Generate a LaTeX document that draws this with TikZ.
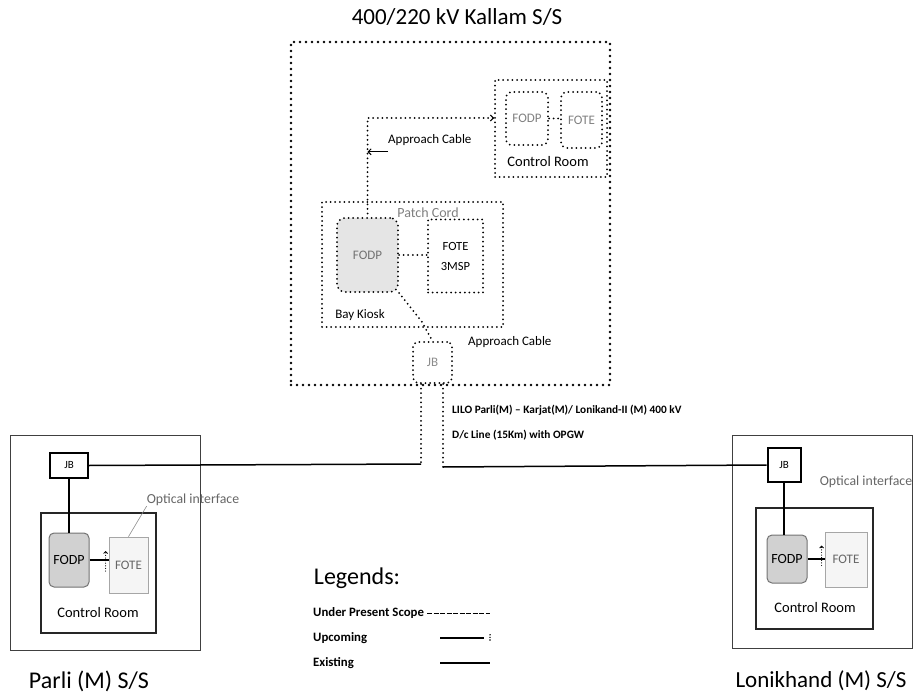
\documentclass[tikz,border=0pt]{standalone}
\usepackage{fontspec}
\setmainfont{Carlito}
\usetikzlibrary{arrows.meta}
\tikzset{dim/.style 2 args={minimum width=#1, minimum height=#2, inner sep=0pt},
	bigdots/.style={line width=2.6pt, line cap=round, dash pattern=on 0pt off 6pt},
	dots/.style={line width=2pt, line cap=round, dash pattern=on 0pt off 4.6pt},
	tinydots/.style={line width=1.2pt, line cap=round, dash pattern=on 0pt off 2.6pt},
	lbl/.style={inner sep=0pt, font=\fontsize{13}{15}\selectfont},
	room lbl/.style={inner sep=0pt, font=\fontsize{14.5}{17}\selectfont},
	big/.style={inner sep=0pt, font=\fontsize{23}{27}\selectfont},
	legi/.style={inner sep=0pt, anchor=west, font=\bfseries\fontsize{12.8}{15}\selectfont},
	barb/.style={-{Straight Barb[length=3pt,width=6pt,line width=1pt]}},
	outer/.style={draw=black!75, line width=1pt},
	room/.style={draw=black!85, line width=1.3pt},
	fodp/.style={draw=black!55, fill=black!18, rounded corners=5, line width=1pt},
	fote/.style={draw=black!35, fill=black!4, line width=0.8pt, text=black!60},
	link/.style={line width=1.5pt}}

\begin{document}
\begin{tikzpicture}[x=1pt,y=-1pt]
\useasboundingbox (0,0) rectangle (917,700);
\node[big] (title) at (457,17) {400/220 kV Kallam S/S};
\node[bigdots, draw, dim={319}{343}] (kal) at (450.5,213.5) {};
\node[dots, draw, dim={112}{97}] (kcr) at (551,128.5) {};
\node[dots, draw, rounded corners=6, dim={42}{53}, lbl, text=black!50] (kfodp) at (527,118.5) {FODP};
\node[dots, draw, rounded corners=6, dim={41}{56}, lbl, text=black!50] (kfote) at (581.5,120) {FOTE};
\node[room lbl] (kcrl) at (548,162) {Control Room};
\node[dots, draw, dim={181}{125}] (bk) at (412.5,264.5) {};
\node[dots, draw, rounded corners=8, fill=black!10, dim={61}{74}, lbl, text=black!55] (bfodp) at (367.5,255) {FODP};
\node[dots, draw, dim={55}{73}, align=center, lbl, font=\fontsize{12.5}{20}\selectfont] (bfote) at (455.5,256) {FOTE\\3MSP};
\node[lbl, text=black!50, font=\fontsize{14}{16}\selectfont] (pcord) at (428,213) {Patch Cord};
\node[lbl] (bkl) at (360,315) {Bay Kiosk};
\node[dots, draw, rounded corners=5, dim={39}{41}, lbl, text=black!45] (kjb) at (432.5,362.5) {JB};
\node[lbl, anchor=west] (acl1) at (388,140) {Approach Cable};
\node[lbl, anchor=west] (acl2) at (468,342) {Approach Cable};
\draw[dots, {Straight Barb[length=3pt,width=6pt,line width=1pt]}-] ([yshift=10.5pt]kcr.west) -| (bfodp.north);
\draw[line width=0.8pt, barb] ([yshift=-6pt]acl1.south west) -- ([yshift=-6pt]acl1.south west -| bfodp.north);
\draw[dots] (kfodp.east) -- (kfodp.east -| kfote.west);
\draw[dots] (bfodp.east) -- (bfodp.east -| bfote.west);
\coordinate (bend) at (422,322);
\draw[dots] (bfodp.south east) -- (bend) -- (kjb.north);
\coordinate (lj) at (421,464);
\coordinate (rj) at (443,467);
\draw[dots] (kjb.south -| lj) -- (lj);
\draw[dots] (kjb.south -| rj) -- (rj);
\node[inner sep=0pt, anchor=west, font=\bfseries\fontsize{11.3}{13}\selectfont] (lilo1) at (452,410) {LILO Parli(M) -- Karjat(M)/ Lonikand-II (M) 400 kV};
\node[inner sep=0pt, anchor=west, font=\bfseries\fontsize{11.3}{13}\selectfont] (lilo2) at (452,435) {D/c Line (15Km) with OPGW};
\node[outer, dim={190}{215}] (pss) at (105,542.5) {};
\node[draw, line width=2pt, dim={38}{25}, lbl, font=\fontsize{11}{13}\selectfont] (pjb) at (69,465.5) {JB};
\node[room, dim={115}{120}] (pcr) at (98.5,573) {};
\node[fodp, dim={40}{54}, lbl, font=\fontsize{14}{16}\selectfont] (pfodp) at (69,560) {FODP};
\node[fote, dim={39}{56}, lbl] (pfote) at (128.5,565) {FOTE};
\node[room lbl] (pcrl) at (98,613) {Control Room};
\node[lbl, text=black!60, font=\fontsize{13.8}{16}\selectfont] (poi) at (193,500) {Optical interface};
\node[big, font=\fontsize{24}{28}\selectfont] (pname) at (89,681) {Parli (M) S/S};
\draw[link] (lj) -- (pjb.east);
\draw[link] (pjb) -- (pfodp);
\draw[link] (pfodp.east) -- (pfodp.east -| pfote.west);
\draw[black!45, line width=0.6pt] (poi.south west) -- (pfote.north);
\draw[tinydots, -{Straight Barb[length=2pt,width=4pt,line width=0.8pt]}] ([xshift=-3pt,yshift=-6pt]pfote.west) -- ([xshift=-3pt,yshift=14pt]pfote.west);
\node[outer, dim={180}{213}] (lss) at (822,541.5) {};
\node[draw, line width=2pt, dim={33}{34}, lbl, font=\fontsize{11}{13}\selectfont] (ljb) at (784,465) {JB};
\node[room, dim={117}{121}] (lcr) at (814.5,568.5) {};
\node[fodp, dim={40}{48}, lbl, font=\fontsize{14}{16}\selectfont] (lfodp) at (787,559) {FODP};
\node[fote, dim={42}{55}, lbl] (lfote) at (846,559.5) {FOTE};
\node[room lbl] (lcrl) at (815,608) {Control Room};
\node[lbl, text=black!60, font=\fontsize{13.8}{16}\selectfont] (loi) at (866,482) {Optical interface};
\node[big] (lname) at (821,681) {Lonikhand (M) S/S};
\draw[link] (rj) -- (ljb.west);
\draw[link] (ljb) -- (ljb |- lfodp.north);
\draw[link] (lfodp.east) -- (lfodp.east -| lfote.west);
\draw[tinydots, -{Straight Barb[length=2pt,width=4pt,line width=0.8pt]}] ([xshift=-3pt,yshift=-6pt]lfote.west) -- ([xshift=-3pt,yshift=14pt]lfote.west);
\node[inner sep=0pt, font=\fontsize{24}{28}\selectfont] (legt) at (357,578) {Legends:};
\node[legi] (lg1) at (313,613) {Under Present Scope};
\node[legi] (lg2) at (313,638) {Upcoming};
\node[legi] (lg3) at (313,663) {Existing};
\coordinate (lgx) at (490,600);
\coordinate (lgs) at (440,600);
\draw[line width=1pt, dash pattern=on 5pt off 1.5pt] ([xshift=3pt]lg1.east) -- (lg1.east -| lgx);
\draw[line width=1.4pt] (lg2.east -| lgs) -- ([xshift=-6pt]lg2.east -| lgx);
\draw[tinydots, line width=1.6pt] ([yshift=-2pt]lg2.east -| lgx) -- ([yshift=5pt]lg2.east -| lgx);
\draw[line width=1.4pt] (lg3.east -| lgs) -- (lg3.east -| lgx);
\end{tikzpicture}
\end{document}
